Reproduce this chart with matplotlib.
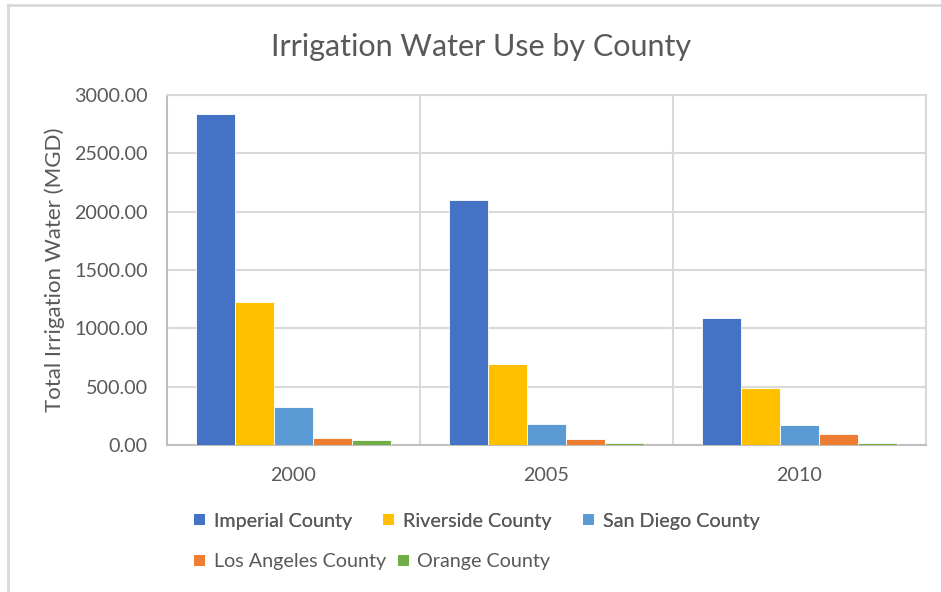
import matplotlib
matplotlib.use("Agg")
import matplotlib.pyplot as plt
from matplotlib.patches import Patch
from matplotlib.lines import Line2D
import numpy as np

# data (MGD)
years = ["2000", "2005", "2010"]
counties = ["Imperial County", "Riverside County", "San Diego County",
            "Los Angeles County", "Orange County"]
imperial = [2835, 2100, 1090]
riverside = [1227, 698, 492]
san_diego = [325, 176, 168]
los_angeles = [62, 53, 96]
orange = [45, 15, 15]
series = [imperial, riverside, san_diego, los_angeles, orange]
colors = ["#4472C4", "#FFC000", "#5B9BD5", "#ED7D31", "#70AD47"]
yticks = [0, 500, 1000, 1500, 2000, 2500, 3000]

plt.rcParams["font.family"] = ["Lato", "DejaVu Sans"]
txt = "#595959"
grid = "#d9d9d9"

fig = plt.figure(figsize=(9.41, 5.92), dpi=100)
ax = fig.add_axes([167 / 941, 1 - 445 / 592, (926 - 167) / 941, (445 - 95) / 592])

x = np.arange(len(years))
n = len(series)
w = 1 / (n + 1.5)
for i, vals in enumerate(series):
    off = (i - (n - 1) / 2) * w
    ax.bar(x + off, vals, width=w, color=colors[i], edgecolor="white",
           linewidth=0.6, zorder=3)

ax.set_xlim(-0.5, len(years) - 0.5)
ax.set_ylim(0, 3000)
ax.set_yticks(yticks)
ax.set_yticklabels([f"{v:.2f}" for v in yticks])
ax.set_xticks(x)
ax.set_xticklabels(years)
ax.tick_params(axis="both", length=0, labelsize=14.2, colors=txt)
ax.tick_params(axis="y", pad=14)
ax.tick_params(axis="x", pad=16)

# horizontal gridlines + category separators
ax.yaxis.grid(True, color=grid, linewidth=1.5, zorder=0)
for b in np.arange(0.5, len(years), 1.0):
    ax.axvline(b, color=grid, linewidth=1.5, zorder=0)
for s in ["top", "right"]:
    ax.spines[s].set_color(grid)
    ax.spines[s].set_linewidth(1.5)
ax.spines["left"].set_color("#bfbfbf")
ax.spines["bottom"].set_color("#bfbfbf")
ax.spines["left"].set_linewidth(1.5)
ax.spines["bottom"].set_linewidth(1.5)

ax.set_ylabel("Total Irrigation Water (MGD)", fontsize=16, color=txt)
ax.yaxis.set_label_coords(-(167 - 55) / 759, 0.5)
ax.yaxis.label.set_va("center")

fig.text(481 / 941, 1 - 47 / 592, "Irrigation Water Use by County",
         ha="center", va="center", fontsize=22, color=txt)

# legend in two rows like Excel
handles = [Patch(facecolor=c) for c in colors]
common = dict(loc="center left", frameon=False, fontsize=14.2, labelcolor=txt,
              handlelength=0.55, handleheight=0.55, handletextpad=0.45,
              borderaxespad=0, borderpad=0)
leg1 = fig.legend(handles[:3], counties[:3], ncol=3,
                  bbox_to_anchor=(194 / 941, 1 - 521 / 592),
                  columnspacing=1.6, **common)
leg2 = fig.legend(handles[3:], counties[3:], ncol=2,
                  bbox_to_anchor=(194 / 941, 1 - 562 / 592),
                  columnspacing=0.6, **common)
fig.add_artist(leg1)

# chart area border (only top and left visible in the crop)
fig.add_artist(Line2D([8 / 941, 1], [1 - 5 / 592, 1 - 5 / 592], color=grid, linewidth=2))
fig.add_artist(Line2D([8 / 941, 8 / 941], [0, 1 - 5 / 592], color=grid, linewidth=2))

fig.savefig("out.png", dpi=100)
